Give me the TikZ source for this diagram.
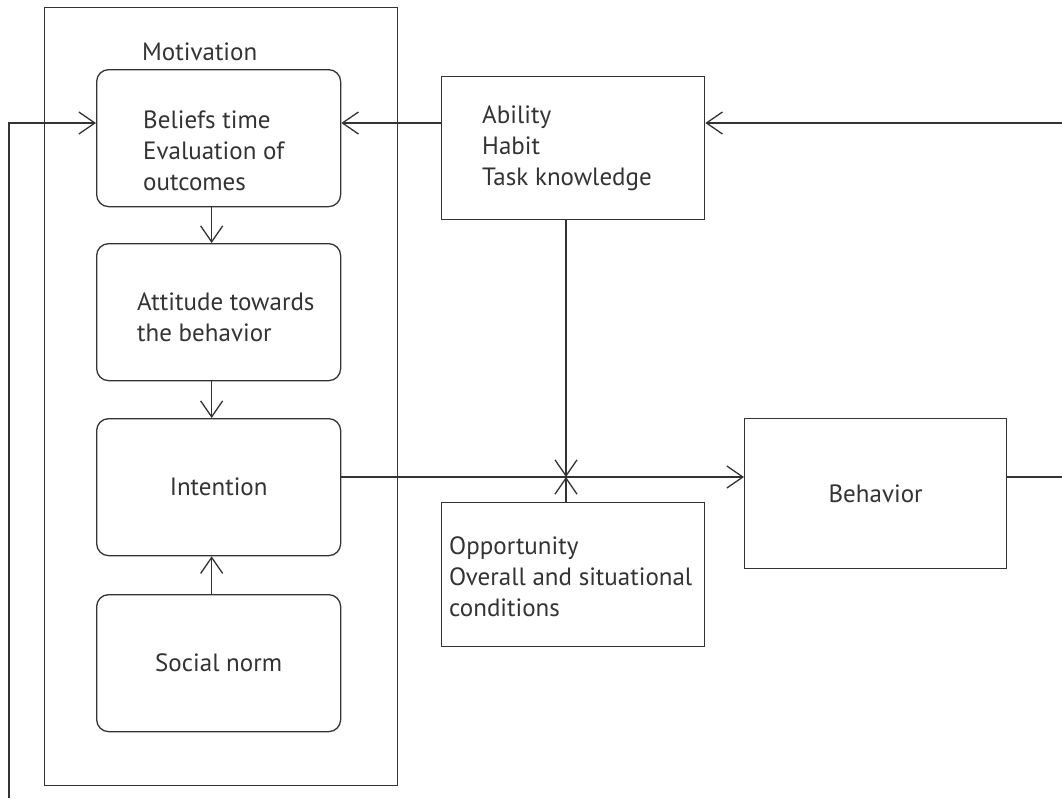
\documentclass[tikz,border=0pt]{standalone}
\usepackage{fontspec}
\setmainfont{PT Sans}
\usetikzlibrary{arrows.meta}
\definecolor{ink}{HTML}{333333}
\begin{document}
\begin{tikzpicture}[x=1pt,y=-1pt,
  every node/.style={font=\fontsize{25}{31}\selectfont, text=ink},
  rbox/.style={draw=ink, line width=1.3pt, rounded corners=12pt, minimum width=244pt, minimum height=137pt, inner sep=0pt, anchor=north west},
  sbox/.style={draw=ink, line width=1.3pt, inner sep=0pt, anchor=north west},
  lbl/.style={align=left, anchor=west, inner sep=0pt},
  conn/.style={draw=ink, line width=1.3pt},
  arr/.style={conn, -{Straight Barb[length=16pt,width=22pt,line width=1.3pt]}}
]
\fill[white] (0,0) rectangle (1062,798);
\useasboundingbox (0,0) rectangle (1062,798);

% Motivation frame
\node[sbox, minimum width=353pt, minimum height=778pt] (mot) at (44,7) {};
\node[lbl] (motl) at (142,52) {Motivation};

% Motivation components
\node[rbox] (b1) at (96,69) {};
\node[lbl] (b1t) at (143,151) {Beliefs time\\Evaluation of\\outcomes};
\node[rbox] (b2) at (96,243) {};
\node[lbl] (b2t) at (137,317) {Attitude towards\\the behavior};
\node[rbox] (b3) at (96,418) {};
\node (b3t) at (b3.center) {Intention};
\node[rbox] (b4) at (96,594) {};
\node (b4t) at (b4.center) {Social norm};

% Right-hand boxes
\node[sbox, minimum width=263pt, minimum height=143pt] (abl) at (441,76) {};
\node[lbl] (ablt) at (482,148) {Ability\\Habit\\Task knowledge};
\node[sbox, minimum width=263pt, minimum height=144pt] (opp) at (441,502) {};
\node[lbl] (oppt) at (449,577) {Opportunity\\Overall and situational\\conditions};
\node[sbox, minimum width=262pt, minimum height=150pt] (beh) at (744,418) {};
\node (beht) at (beh.center) {Behavior};

% helper coordinates
\coordinate (cross) at (566,477);
\coordinate (fbtop) at (9,123);
\coordinate (fbbot) at (9,798);
\coordinate (re1) at (1062,123);
\coordinate (re2) at (1062,477);

% connectors
\draw[arr] ([xshift=-7pt]b1.south) -- ([xshift=-7pt]b2.north);
\draw[arr] ([xshift=-7pt]b2.south) -- ([xshift=-7pt]b3.north);
\draw[arr] ([xshift=-7pt]b4.north) -- ([xshift=-7pt]b3.south);
\draw[arr] (abl.west |- fbtop) -- (b1.east |- fbtop);
\draw[arr] (re1) -- (abl.east |- re1);
\draw[arr] (b3.east |- cross) -- (beh.west |- cross);
\draw[arr] (abl.south -| cross) -- (cross);
\draw[arr] (opp.north -| cross) -- (cross);
\draw[conn] (beh.east |- re2) -- (re2);
\draw[arr] (fbbot) -- (fbtop) -- (b1.west |- fbtop);
\end{tikzpicture}
\end{document}
